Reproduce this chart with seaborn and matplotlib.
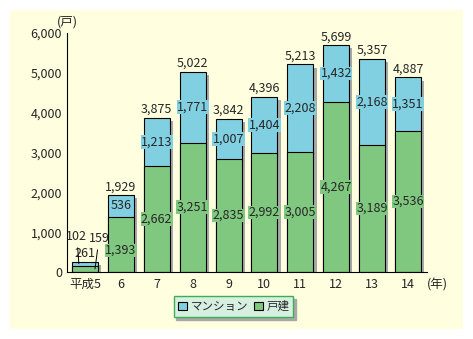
import matplotlib
matplotlib.use("Agg")
import matplotlib.pyplot as plt
import matplotlib.patheffects as pe
from matplotlib.patches import Rectangle, Patch
import seaborn as sns
import pandas as pd

# 年次別の住宅着工戸数（戸）
years = ["平成5", "6", "7", "8", "9", "10", "11", "12", "13", "14"]
detached = [159, 1393, 2662, 3251, 2835, 2992, 3005, 4267, 3189, 3536]   # 戸建
mansion = [102, 536, 1213, 1771, 1007, 1404, 2208, 1432, 2168, 1351]     # マンション
totals = [d + m for d, m in zip(detached, mansion)]
yticks = [0, 1000, 2000, 3000, 4000, 5000, 6000]

BLUE = "#80d0e2"
GREEN = "#80c880"
PANEL = "#ffffe0"

sns.set_style("white")
plt.rcParams["font.family"] = ["Noto Sans CJK JP", "DejaVu Sans"]
FS = 9

df = pd.DataFrame({"year": years, "detached": detached, "mansion": mansion, "total": totals})

fig = plt.figure(figsize=(4.73, 3.39), dpi=100, facecolor="white")
fig.patches.append(Rectangle((10 / 473, 1 - 329 / 339), 453 / 473, 319 / 339,
                             transform=fig.transFigure, facecolor=PANEL,
                             edgecolor="none", zorder=-10))
ax = fig.add_axes([67 / 473, 1 - 272 / 339, 360 / 473, 239 / 339])
ax.set_facecolor("none")

bw = 0.725
sns.barplot(data=df, x="year", y="total", color=BLUE, saturation=1, width=bw,
            edgecolor="black", linewidth=0.8, ax=ax)
sns.barplot(data=df, x="year", y="detached", color=GREEN, saturation=1, width=bw,
            edgecolor="black", linewidth=0.8, ax=ax)

shadow = [pe.SimplePatchShadow(offset=(2.3, -2.3), shadow_rgbFace="#a8a8a8", alpha=1.0),
          pe.Normal()]
for p in ax.patches:
    p.set_path_effects(shadow)

ax.set_xlim(-0.5, 9.53)
ax.set_ylim(0, 6000)
ax.set_yticks(yticks)
ax.set_yticklabels([f"{v:,}" for v in yticks], fontsize=FS)
ax.tick_params(axis="y", direction="in", length=6.5, width=0.8, color="black", pad=3.5)
ax.tick_params(axis="x", length=0, pad=4, labelsize=FS)
ax.set_xlabel("")
ax.set_ylabel("")
for s in ("top", "right"):
    ax.spines[s].set_visible(False)
for s in ("left", "bottom"):
    ax.spines[s].set_color("black")
    ax.spines[s].set_linewidth(0.8)


def seg_box(color):
    return dict(facecolor=color, edgecolor="none", pad=0.3)


# 数値ラベル
for i, (d, m, t) in enumerate(zip(detached, mansion, totals)):
    if i == 0:
        continue
    ax.annotate(f"{t:,}", (i, t), xytext=(0, 6), textcoords="offset points",
                ha="center", va="center", fontsize=FS)
    dy = -4.5 if i == 1 else 0
    ax.annotate(f"{d:,}", (i, d / 2), xytext=(0, dy), textcoords="offset points",
                ha="center", va="center", fontsize=FS, bbox=seg_box(GREEN))
    ax.text(i, d + m / 2, f"{m:,}", ha="center", va="center", fontsize=FS,
            bbox=seg_box(BLUE))

# 平成5年は引き出し線付き
d0, m0, t0 = detached[0], mansion[0], totals[0]
ax.annotate(f"{t0:,}", (0, t0), xytext=(0, 6), textcoords="offset points",
            ha="center", va="center", fontsize=FS)
ax.annotate(f"{m0:,}", (-0.17, d0 + m0 / 2), xytext=(-1.4, 19.4), textcoords="offset points",
            ha="center", va="center", fontsize=FS,
            arrowprops=dict(arrowstyle="-", color="black", lw=0.7, shrinkA=1, shrinkB=0))
ax.annotate(f"{d0:,}", (0.28, d0 / 2), xytext=(2.9, 21.6), textcoords="offset points",
            ha="center", va="center", fontsize=FS,
            arrowprops=dict(arrowstyle="-", color="black", lw=0.7, shrinkA=1, shrinkB=0))

# 単位
fig.text(67 / 473, 1 - 22 / 339, "(戸)", ha="center", va="center", fontsize=FS)
fig.text(437 / 473, 1 - 285 / 339, "(年)", ha="center", va="center", fontsize=FS)

handles = [Patch(facecolor=BLUE, edgecolor="black", linewidth=0.8, label="マンション"),
           Patch(facecolor=GREEN, edgecolor="black", linewidth=0.8, label="戸建")]
leg = fig.legend(handles=handles, ncol=2, loc="center",
                 bbox_to_anchor=(233.5 / 473, 1 - 306.5 / 339), fontsize=8.3,
                 frameon=True, fancybox=False, handlelength=0.8, handleheight=0.8,
                 handletextpad=0.3, columnspacing=0.5, borderpad=0.35,
                 shadow={"color": "#a8a8a8", "alpha": 1.0})
leg.get_frame().set_facecolor("#d6efe0")
leg.get_frame().set_edgecolor("#3cb050")
leg.get_frame().set_linewidth(1.0)
leg.get_frame().set_alpha(1.0)

fig.savefig("out.png", dpi=100, facecolor="white")
